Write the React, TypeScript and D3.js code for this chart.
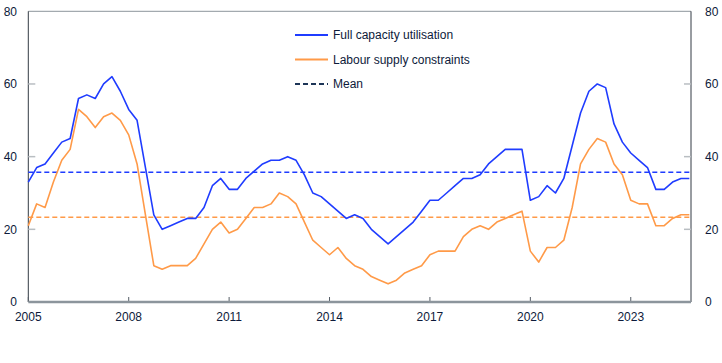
import React from "react";
import * as d3 from "d3";

// quarterly observations, first one is 2005 Q1
const startYear = 2005;
const fullCapacity = [
  33, 37, 38, 41, 44, 45, 56, 57, 56, 60, 62, 58, 53, 50, 37, 24,
  20, 21, 22, 23, 23, 26, 32, 34, 31, 31, 34, 36, 38, 39, 39, 40,
  39, 35, 30, 29, 27, 25, 23, 24, 23, 20, 18, 16, 18, 20, 22, 25,
  28, 28, 30, 32, 34, 34, 35, 38, 40, 42, 42, 42, 28, 29, 32, 30,
  34, 43, 52, 58, 60, 59, 49, 44, 41, 39, 37, 31, 31, 33, 34, 34,
];
const labourSupply = [
  21, 27, 26, 33, 39, 42, 53, 51, 48, 51, 52, 50, 46, 38, 24, 10,
  9, 10, 10, 10, 12, 16, 20, 22, 19, 20, 23, 26, 26, 27, 30, 29,
  27, 22, 17, 15, 13, 15, 12, 10, 9, 7, 6, 5, 6, 8, 9, 10,
  13, 14, 14, 14, 18, 20, 21, 20, 22, 23, 24, 25, 14, 11, 15, 15,
  17, 26, 38, 42, 45, 44, 38, 35, 28, 27, 27, 21, 21, 23, 24, 24,
];
const meanFullCapacity = 35.7;
const meanLabourSupply = 23.3;

const yTicks = [0, 20, 40, 60, 80];
const xTicks = [2005, 2008, 2011, 2014, 2017, 2020, 2023];
const legendLabels = ["Full capacity utilisation", "Labour supply constraints", "Mean"];

const BLUE = "#1f3cff";
const ORANGE = "#ff9a48";
const TEXT = "#0d1a3a";
const FONT = "'Liberation Sans', Arial, sans-serif";

export default function App() {
  const width = 722;
  const height = 363;
  const left = 28.3;
  const right = 691;
  const top = 11.3;
  const bottom = 302;

  const x = d3.scaleLinear().domain([2005, 2024.8]).range([left, right]);
  const y = d3.scaleLinear().domain([0, 80]).range([bottom, top]);

  const line = d3
    .line<number>()
    .x((_, i) => x(startYear + i / 4))
    .y((d) => y(d));

  const legendColors = [BLUE, ORANGE, "#1d3557"];

  return (
    <svg
      width={width}
      height={height}
      style={{ position: "absolute", left: 0, top: 0, background: "#fff" }}
      fontFamily={FONT}
    >
      {/* frame */}
      <line x1={left} x2={right} y1={top} y2={top} stroke="#8c959c" strokeWidth={1} />
      <line x1={left} x2={left} y1={top} y2={bottom} stroke="#333b44" strokeWidth={1} />
      <line x1={right} x2={right} y1={top} y2={bottom} stroke="#333b44" strokeWidth={1} />

      {/* y ticks both sides */}
      {yTicks.map((t) => (
        <g key={t}>
          {t > 0 && t < 80 && (
            <>
              <line x1={left} x2={left + 7} y1={y(t)} y2={y(t)} stroke="#b9bec2" strokeWidth={1.5} />
              <line x1={right - 7} x2={right} y1={y(t)} y2={y(t)} stroke="#b9bec2" strokeWidth={1.5} />
            </>
          )}
          <text x={17} y={y(t)} dy="0.35em" textAnchor="end" fontSize={12} fill={TEXT}>
            {t}
          </text>
          <text x={705} y={y(t)} dy="0.35em" textAnchor="start" fontSize={12} fill={TEXT}>
            {t}
          </text>
        </g>
      ))}

      {/* x axis */}
      {xTicks.map((t) => (
        <g key={t}>
          <line x1={x(t)} x2={x(t)} y1={bottom - 5} y2={bottom} stroke="#555d66" strokeWidth={1} />
          <text x={x(t)} y={bottom + 19} textAnchor="middle" fontSize={12} fill={TEXT}>
            {t}
          </text>
        </g>
      ))}
      <line x1={left} x2={right} y1={bottom} y2={bottom} stroke="#8c959c" strokeWidth={2.5} />

      {/* means */}
      <line
        x1={left}
        x2={right}
        y1={y(meanFullCapacity)}
        y2={y(meanFullCapacity)}
        stroke={BLUE}
        strokeWidth={1.5}
        strokeDasharray="5,3"
      />
      <line
        x1={left}
        x2={right}
        y1={y(meanLabourSupply)}
        y2={y(meanLabourSupply)}
        stroke={ORANGE}
        strokeWidth={1.5}
        strokeDasharray="5,3"
      />

      {/* series */}
      <path d={line(labourSupply) ?? ""} fill="none" stroke={ORANGE} strokeWidth={1.6} strokeLinejoin="round" />
      <path d={line(fullCapacity) ?? ""} fill="none" stroke={BLUE} strokeWidth={1.6} strokeLinejoin="round" />

      {/* legend */}
      {legendLabels.map((label, i) => (
        <g key={label} transform={`translate(295,${35 + i * 24.5})`}>
          <line
            x1={0}
            x2={33}
            y1={0}
            y2={0}
            stroke={legendColors[i]}
            strokeWidth={2}
            strokeDasharray={i === 2 ? "5,3" : undefined}
          />
          <text x={38} y={0} dy="0.35em" fontSize={12} fill={TEXT}>
            {label}
          </text>
        </g>
      ))}
    </svg>
  );
}
